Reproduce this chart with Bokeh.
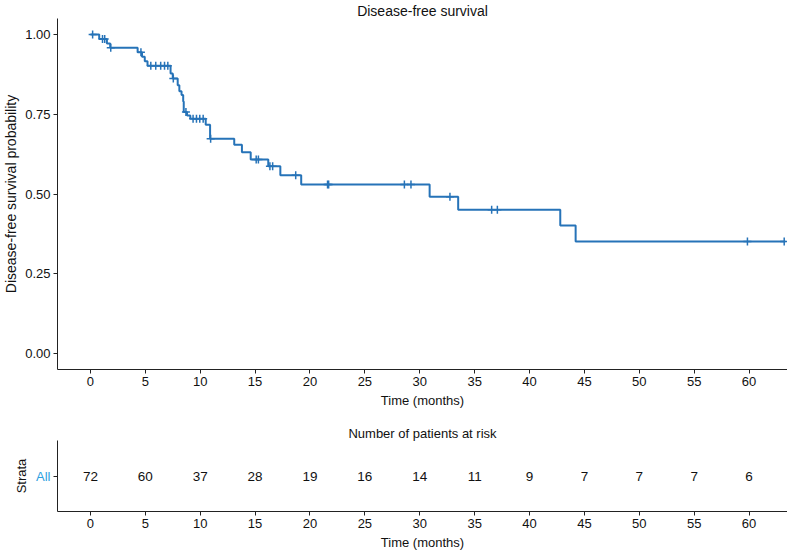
import numpy as np
from bokeh.plotting import figure
from bokeh.layouts import column
from bokeh.models import Range1d, FactorRange, FixedTicker, NumeralTickFormatter
from bokeh.core.properties import value
from bokeh.embed import file_html
from bokeh.resources import INLINE

# Kaplan-Meier step function
event_times = [0, 0.8, 1.5, 1.8, 4.3, 4.7, 4.95, 5.2, 7.3, 7.5, 7.95, 8.1, 8.3, 8.45,
               8.5, 8.8, 9.1, 10.5, 10.9, 13.1, 13.8, 14.6, 16.2, 17.3, 19.2, 30.9,
               33.5, 42.8, 44.2]
surv_probs = [1.0, 0.986, 0.972, 0.958, 0.944, 0.930, 0.916, 0.902, 0.878, 0.862,
              0.841, 0.822, 0.810, 0.790, 0.757, 0.746, 0.736, 0.717, 0.673, 0.654,
              0.631, 0.608, 0.587, 0.559, 0.530, 0.491, 0.451, 0.401, 0.351]
last_time = 63.3
censor_times = [0.2, 1.1, 1.3, 1.85, 4.6, 5.5, 5.95, 6.4, 6.75, 7.05, 7.55, 8.7,
                9.35, 9.66, 9.96, 10.27, 10.95, 15.1, 15.3, 16.35, 16.6, 18.7, 21.6,
                21.7, 28.6, 29.2, 32.75, 36.55, 37.07, 59.85, 63.2]

# Number at risk table
risk_times = [0, 5, 10, 15, 20, 25, 30, 35, 40, 45, 50, 55, 60]
risk_counts = [72, 60, 37, 28, 19, 16, 14, 11, 9, 7, 7, 7, 6]
strata = ["All"]

x_ticks = [0, 5, 10, 15, 20, 25, 30, 35, 40, 45, 50, 55, 60]
y_ticks = [0, 0.25, 0.5, 0.75, 1.0]

FONT = "Liberation Sans"
CURVE = "#2673b8"
STRATA_COL = "#2e9fdf"
AX = "#222222"
FS = "13px"

X_START, X_END = -3.0, 63.5


def style_axes(fig, title_size):
    fig.grid.visible = False
    fig.outline_line_color = None
    fig.title.align = "center"
    fig.title.text_font = FONT
    fig.title.text_font_size = title_size
    fig.title.text_font_style = "normal"
    fig.title.text_color = "#111111"
    fig.title.standoff = 0
    for ax in fig.axis:
        ax.axis_line_color = AX
        ax.axis_line_width = 1
        ax.major_tick_line_color = AX
        ax.major_tick_out = 4
        ax.major_tick_in = 0
        ax.minor_tick_line_color = None
        ax.major_label_text_font = FONT
        ax.major_label_text_font_size = FS
        ax.major_label_text_color = "#111111"
        ax.axis_label_text_font = FONT
        ax.axis_label_text_font_size = FS
        ax.axis_label_text_font_style = "normal"
        ax.axis_label_text_color = "#111111"
        ax.major_label_standoff = 3
        ax.axis_label_standoff = 4


# ---- survival curve
p = figure(width=787, height=410, x_range=Range1d(X_START, X_END),
           y_range=Range1d(-0.05, 1.05), output_backend="svg", toolbar_location=None,
           title="Disease-free survival",
           min_border_left=57, min_border_right=0, min_border_top=17, min_border_bottom=0)

xs = event_times + [last_time]
ys = surv_probs + [surv_probs[-1]]
p.step(xs, ys, mode="after", line_color=CURVE, line_width=2)

cidx = np.searchsorted(np.array(event_times), np.array(censor_times), side="right") - 1
cy = np.array(surv_probs)[cidx]
p.scatter(censor_times, cy, marker="cross", size=8, line_color=CURVE, line_width=1.5)

style_axes(p, "14px")
p.xaxis.ticker = FixedTicker(ticks=x_ticks)
p.yaxis.ticker = FixedTicker(ticks=y_ticks)
p.yaxis.formatter = NumeralTickFormatter(format="0.00")
p.xaxis.axis_label = "Time (months)"
p.yaxis.axis_label = "Disease-free survival probability"
p.yaxis.axis_label_text_font_size = "14px"
p.yaxis.axis_label_standoff = 3

# ---- risk table
p2 = figure(width=787, height=142, x_range=Range1d(X_START, X_END),
            y_range=FactorRange(*strata), output_backend="svg", toolbar_location=None,
            title="Number of patients at risk",
            min_border_left=57, min_border_right=0, min_border_top=30, min_border_bottom=0)
p2.text(x=risk_times, y=[strata[0]] * len(risk_times), text=[str(c) for c in risk_counts],
        text_align="center", text_baseline="middle", text_font=value(FONT),
        text_font_size="13.5px", text_color="#111111")
style_axes(p2, "13px")
p2.xaxis.ticker = FixedTicker(ticks=x_ticks)
p2.xaxis.axis_label = "Time (months)"
p2.yaxis.axis_label = "Strata"
p2.yaxis.major_label_text_color = STRATA_COL

layout = column(p, p2, spacing=0)
open("out.html", "w").write(file_html(layout, INLINE))
